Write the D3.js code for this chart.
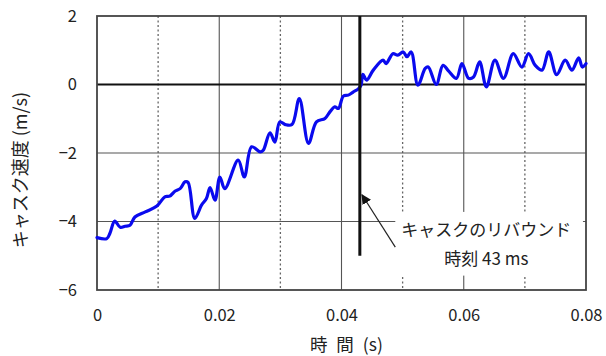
<!DOCTYPE html>
<html><head><meta charset="utf-8">
<script src="https://cdn.jsdelivr.net/npm/d3@7"></script>
<style>
html,body{margin:0;padding:0;background:#fff;}
svg{display:block;}
text{font-family:"Noto Sans CJK JP","Noto Sans",sans-serif;fill:#222;}
</style></head>
<body>
<svg id="chart" width="606" height="356"></svg>
<script>
// ---- data ----
const timeS = [0.0000,0.0016,0.0021,0.0029,0.0038,0.0046,0.0054,0.0062,0.0079,0.0098,
  0.0111,0.0119,0.0128,0.0136,0.0144,0.0149,0.0160,0.0171,0.0179,0.0185,
  0.0193,0.0201,0.0209,0.0231,0.0241,0.0253,0.0267,0.0272,0.0283,0.0291,
  0.0299,0.0308,0.0319,0.0331,0.0346,0.0359,0.0373,0.0381,0.0389,0.0395,
  0.0403,0.0411,0.0419,0.0428,0.0432,0.0435,0.0441,0.0452,0.0468,0.0473,
  0.0484,0.0492,0.0501,0.0507,0.0514,0.0525,0.0537,0.0542,0.0555,0.0566,
  0.0575,0.0588,0.0597,0.0608,0.0616,0.0626,0.0637,0.0651,0.0665,0.0681,
  0.0695,0.0706,0.0717,0.0728,0.0739,0.0752,0.0766,0.0777,0.0788,0.0794,0.0800];
const velocity = [-4.47,-4.50,-4.35,-3.99,-4.17,-4.14,-4.11,-3.87,-3.72,-3.55,
  -3.28,-3.26,-3.11,-3.04,-2.84,-2.86,-3.91,-3.52,-3.33,-3.01,
  -3.38,-2.70,-3.04,-2.21,-2.70,-1.82,-1.97,-1.92,-1.41,-1.68,
  -1.09,-1.17,-1.17,-0.41,-1.72,-1.09,-0.99,-0.80,-0.65,-0.70,
  -0.34,-0.31,-0.22,-0.12,-0.02,0.30,0.13,0.42,0.71,0.61,
  0.90,0.86,0.95,0.81,0.95,-0.02,0.47,0.51,0.00,0.56,
  0.40,0.18,0.61,0.18,0.22,0.66,-0.07,0.71,0.18,0.90,
  0.51,0.90,0.56,0.42,0.95,0.29,0.71,0.42,0.78,0.51,0.61];
const xMajorTicks = [0,0.02,0.04,0.06,0.08];
const xMinorTicks = [0.01,0.03,0.05,0.07];
const yTicks = [-6,-4,-2,0,2];
const reboundTime = 0.043;
const reboundLine = [2,-5];
const annotationLines = ["キャスクのリバウンド","時刻 43 ms"];
const xTitle = "時 間 (s)";
const yTitle = "キャスク速度 (m/s)";

// ---- layout ----
const svg = d3.select("#chart");
const m = {left:97, top:16, right:20, bottom:66};
const W = 606 - m.left - m.right, H = 356 - m.top - m.bottom;
const x = d3.scaleLinear().domain([0,0.08]).range([0,W]);
const y = d3.scaleLinear().domain([-6,2]).range([H,0]);
const g = svg.append("g").attr("transform",`translate(${m.left},${m.top})`);

// minor dotted verticals
g.selectAll(".vminor").data(xMinorTicks).join("line")
  .attr("x1",d=>x(d)).attr("x2",d=>x(d)).attr("y1",0).attr("y2",H)
  .attr("stroke","#666").attr("stroke-width",1.3).attr("stroke-dasharray","2,2.5");
// major verticals
g.selectAll(".vmajor").data(xMajorTicks.slice(1,-1)).join("line")
  .attr("x1",d=>x(d)).attr("x2",d=>x(d)).attr("y1",0).attr("y2",H)
  .attr("stroke","#555").attr("stroke-width",1.1);
// horizontals
g.selectAll(".hgrid").data(yTicks.filter(d=>d!==0 && d!==2 && d!==-6)).join("line")
  .attr("x1",0).attr("x2",W).attr("y1",d=>y(d)).attr("y2",d=>y(d))
  .attr("stroke","#555").attr("stroke-width",1.1);

// annotation white box
const boxX0 = x(0.0488), boxX1 = x(0.0795), boxY0 = y(-3.72), boxY1 = y(-5.58);
g.append("rect").attr("x",boxX0).attr("y",boxY0).attr("width",boxX1-boxX0).attr("height",boxY1-boxY0)
  .attr("fill","#fff");

// zero line
g.append("line").attr("x1",0).attr("x2",W).attr("y1",y(0)).attr("y2",y(0))
  .attr("stroke","#111").attr("stroke-width",1.8);

// border
g.append("rect").attr("x",0).attr("y",0).attr("width",W).attr("height",H)
  .attr("fill","none").attr("stroke","#444").attr("stroke-width",1.8);

// data line
const pts = timeS.map((t,i)=>[t,velocity[i]]);
g.append("path").datum(pts)
  .attr("d",d3.line().x(d=>x(d[0])).y(d=>y(d[1])).curve(d3.curveCatmullRom.alpha(0.5)))
  .attr("fill","none").attr("stroke","#0a0aee").attr("stroke-width",3.2)
  .attr("stroke-linejoin","round").attr("stroke-linecap","round");

// rebound vertical line
g.append("line").attr("x1",x(reboundTime)).attr("x2",x(reboundTime))
  .attr("y1",y(reboundLine[0])).attr("y2",y(reboundLine[1]))
  .attr("stroke","#111").attr("stroke-width",3);

// arrow
svg.append("defs").append("marker").attr("id","ah").attr("viewBox","0 0 10 10")
  .attr("refX",9).attr("refY",5).attr("markerWidth",10).attr("markerHeight",10)
  .attr("markerUnits","userSpaceOnUse").attr("orient","auto")
  .append("path").attr("d","M0,0 L10,5 L0,10 z").attr("fill","#111");
g.append("line").attr("x1",x(0.0488)).attr("y1",y(-4.75))
  .attr("x2",x(0.04335)).attr("y2",y(-3.22))
  .attr("stroke","#222").attr("stroke-width",1.2).attr("marker-end","url(#ah)");

// annotation text
const annX = x(0.0637);
g.append("text").attr("x",annX).attr("y",y(-4.43)).attr("text-anchor","middle")
  .attr("font-size",17).text(annotationLines[0]);
g.append("text").attr("x",annX).attr("y",y(-5.27)).attr("text-anchor","middle")
  .attr("font-size",17).text(annotationLines[1]);

// axes labels
const xAxis = d3.axisBottom(x).tickValues(xMajorTicks).tickSize(0).tickPadding(19)
  .tickFormat(d=>d===0?"0":d3.format(".2f")(d));
const xa = g.append("g").attr("transform",`translate(0,${H})`).call(xAxis);
xa.select(".domain").remove();
xa.selectAll("text").attr("font-size",16.5).style("font-family",'"Noto Sans CJK JP",sans-serif').attr("fill","#222");

const yAxis = d3.axisLeft(y).tickValues(yTicks).tickSize(0).tickPadding(20)
  .tickFormat(d3.format("d"));
const ya = g.append("g").call(yAxis);
ya.select(".domain").remove();
ya.selectAll("text").attr("font-size",16.5).style("font-family",'"Noto Sans CJK JP",sans-serif').attr("fill","#222");

// titles
svg.append("text").attr("x",m.left + x(0.0408)).attr("y",351).attr("text-anchor","middle")
  .attr("font-size",17.5).style("word-spacing","5px").style("white-space","pre").text(xTitle);
svg.append("text").attr("transform",`translate(27,${m.top + y(-2.5)}) rotate(-90)`)
  .attr("text-anchor","middle").attr("font-size",18).text(yTitle);
</script>
</body></html>
